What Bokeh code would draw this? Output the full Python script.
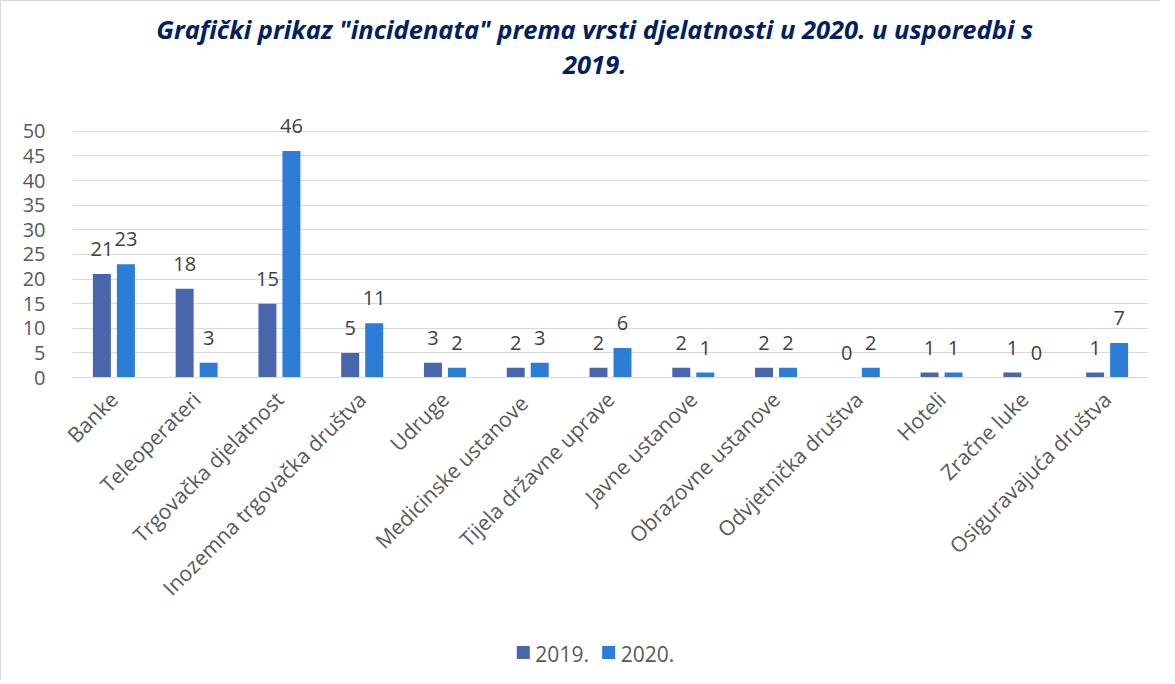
import math
from bokeh.plotting import figure
from bokeh.layouts import column
from bokeh.models import ColumnDataSource, FactorRange, Range1d, FixedTicker
from bokeh.transform import dodge
from bokeh.core.properties import value
from bokeh.embed import file_html
from bokeh.resources import INLINE

categories = ["Banke", "Teleoperateri", "Trgovačka djelatnost", "Inozemna trgovačka društva",
              "Udruge", "Medicinske  ustanove", "Tijela državne uprave", "Javne ustanove",
              "Obrazovne ustanove", "Odvjetnička društva", "Hoteli", "Zračne luke",
              "Osiguravajuća društva"]
v2019 = [21, 18, 15, 5, 3, 2, 2, 2, 2, 0, 1, 1, 1]
v2020 = [23, 3, 46, 11, 2, 3, 6, 1, 2, 2, 1, 0, 7]
series_names = ["2019.", "2020."]
y_ticks = [0, 5, 10, 15, 20, 25, 30, 35, 40, 45, 50]
title_lines = ['Grafički prikaz "incidenata" prema vrsti djelatnosti u 2020. u usporedbi s', '2019.']

c2019 = "#4966AD"
c2020 = "#2B7DD6"
FONT = "Open Sans"
TITLE_COLOR = "#002060"
TEXT_GRAY = "#595959"
BORDER = "1px solid #d9d9d9"
W = 1160


def strip(height):
    f = figure(x_range=Range1d(0, W), y_range=Range1d(0, height), width=W, height=height,
               output_backend="svg", toolbar_location=None,
               x_axis_location=None, y_axis_location=None,
               min_border_left=0, min_border_right=0, min_border_top=0, min_border_bottom=0)
    f.grid.visible = False
    f.outline_line_color = None
    return f


# ---- title strip ----
T = strip(100)
T.text(x=[563, 563], y=[73, 37], text=title_lines, text_align="center", text_baseline="alphabetic",
       text_font=value(FONT), text_font_style="bold italic", text_font_size="25.5px",
       text_color=TITLE_COLOR)
T.styles = {"border-left": BORDER, "border-top": BORDER}

# ---- main chart ----
src = ColumnDataSource(dict(cat=categories, v2019=v2019, v2020=v2020,
                            t2019=[str(v) for v in v2019], t2020=[str(v) for v in v2020]))

p = figure(x_range=FactorRange(*categories), y_range=Range1d(0, 53),
           width=W, height=530, output_backend="svg", toolbar_location=None,
           min_border_left=71, min_border_right=13, min_border_top=16, min_border_bottom=253)

p.vbar(x=dodge("cat", -0.145, range=p.x_range), top="v2019", width=0.217, source=src,
       fill_color=c2019, line_color=None)
p.vbar(x=dodge("cat", 0.145, range=p.x_range), top="v2020", width=0.217, source=src,
       fill_color=c2020, line_color=None)

for col, off in (("2019", -0.145), ("2020", 0.145)):
    p.text(x=dodge("cat", off, range=p.x_range), y="v" + col, text="t" + col, source=src,
           text_align="center", text_baseline="alphabetic", y_offset=-25,
           text_font=value(FONT), text_font_size="20px", text_color="#404040")

p.outline_line_color = None
p.xgrid.grid_line_color = None
p.ygrid.grid_line_color = "#d9d9d9"
p.ygrid.ticker = FixedTicker(ticks=y_ticks)

p.yaxis.ticker = FixedTicker(ticks=y_ticks)
p.yaxis.axis_line_color = None
p.yaxis.major_tick_line_color = None
p.yaxis.minor_tick_line_color = None
p.yaxis.major_label_text_font = FONT
p.yaxis.major_label_text_font_size = "20px"
p.yaxis.major_label_text_color = TEXT_GRAY
p.yaxis.major_label_standoff = 21

p.xaxis.axis_line_color = "#d9d9d9"
p.xaxis.major_tick_line_color = None
p.xaxis.minor_tick_line_color = None
p.xaxis.major_label_orientation = math.pi / 4
p.xaxis.major_label_text_font = FONT
p.xaxis.major_label_text_font_size = "21px"
p.xaxis.major_label_text_color = TEXT_GRAY
p.xaxis.major_label_standoff = 12
p.styles = {"border-left": BORDER}

# ---- legend strip ----
Q = strip(50)
Q.rect(x=[486, 578], y=[28, 28], width=14, height=13, fill_color=[c2019, c2020], line_color=None)
Q.text(x=[499, 591], y=[27, 27], text=series_names, text_align="left", text_baseline="alphabetic",
       text_font=value(FONT), text_font_size="21px", text_color=TEXT_GRAY)
Q.styles = {"border-left": BORDER}

layout = column(T, p, Q, spacing=0)
open("out.html", "w").write(file_html(layout, INLINE))
